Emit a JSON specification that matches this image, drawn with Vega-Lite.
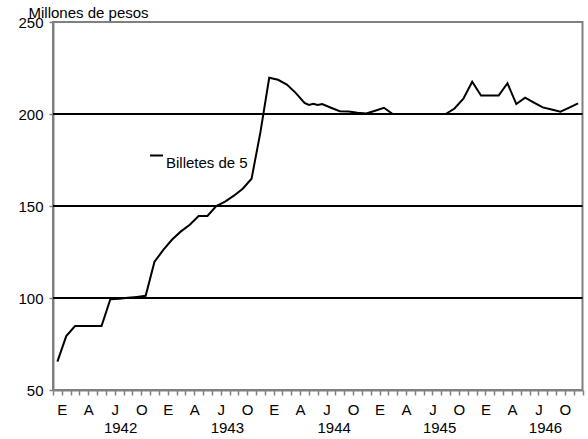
{
  "$schema": "https://vega.github.io/schema/vega-lite/v6.json",
  "width": 529.5,
  "height": 368,
  "autosize": {"type": "none"},
  "padding": {"left": 53, "top": 22, "right": 5.5, "bottom": 49},
  "config": {
    "font": "Liberation Sans",
    "view": {"stroke": "#808080", "strokeWidth": 2},
    "axis": {"labelColor": "black", "titleColor": "black", "labelFontSize": 15, "titleFontSize": 15, "titleFontWeight": "normal"}
  },
  "layer": [
    {
      "data": {"values": [{"nivel": 100}, {"nivel": 150}, {"nivel": 200}]},
      "mark": {"type": "rule", "color": "black", "strokeWidth": 2},
      "encoding": {
        "x": {
          "datum": 0,
          "type": "quantitative",
          "scale": {"domain": [0, 60], "nice": false, "zero": false},
          "axis": {
            "orient": "bottom",
            "values": [7.6, 19.7, 31.8, 43.75, 55.75],
            "labelExpr": "toString(1942 + floor(datum.value / 12))",
            "ticks": false,
            "tickSize": 0,
            "domain": false,
            "grid": false,
            "labelPadding": 30.5,
            "labelFlush": false,
            "labelOverlap": false,
            "title": null
          }
        },
        "x2": {"datum": 60},
        "y": {
          "field": "nivel",
          "type": "quantitative",
          "scale": {"domain": [50, 250], "nice": false, "zero": false},
          "axis": null
        }
      }
    },
    {
      "data": {
        "values": [
          {"t": 0.5, "millones": 65.4},
          {"t": 1.5, "millones": 79.3},
          {"t": 2.5, "millones": 84.8},
          {"t": 3.5, "millones": 84.8},
          {"t": 4.5, "millones": 84.8},
          {"t": 5.5, "millones": 84.8},
          {"t": 6.5, "millones": 99.3},
          {"t": 7.5, "millones": 99.6},
          {"t": 8.5, "millones": 100.1},
          {"t": 9.5, "millones": 100.6},
          {"t": 10.5, "millones": 101.2},
          {"t": 11.5, "millones": 119.7},
          {"t": 12.5, "millones": 126.1},
          {"t": 13.5, "millones": 131.8},
          {"t": 14.5, "millones": 136.2},
          {"t": 15.5, "millones": 139.8},
          {"t": 16.5, "millones": 144.6},
          {"t": 17.5, "millones": 144.6},
          {"t": 18.5, "millones": 150.0},
          {"t": 19.5, "millones": 152.4},
          {"t": 20.5, "millones": 155.6},
          {"t": 21.5, "millones": 159.4},
          {"t": 22.5, "millones": 164.8},
          {"t": 23.5, "millones": 190.0},
          {"t": 24.5, "millones": 219.7},
          {"t": 25.5, "millones": 218.6},
          {"t": 26.5, "millones": 216.0},
          {"t": 27.5, "millones": 211.5},
          {"t": 28.5, "millones": 206.0},
          {"t": 29.0, "millones": 204.9},
          {"t": 29.5, "millones": 205.6},
          {"t": 30.0, "millones": 204.9},
          {"t": 30.5, "millones": 205.4},
          {"t": 31.5, "millones": 203.4},
          {"t": 32.5, "millones": 201.5},
          {"t": 33.5, "millones": 201.3},
          {"t": 34.5, "millones": 200.7},
          {"t": 35.5, "millones": 200.3},
          {"t": 36.5, "millones": 201.8},
          {"t": 37.5, "millones": 203.4},
          {"t": 38.5, "millones": 200.0},
          {"t": 39.5, "millones": 200.0},
          {"t": 40.5, "millones": 200.0},
          {"t": 41.5, "millones": 200.0},
          {"t": 42.5, "millones": 200.0},
          {"t": 43.5, "millones": 200.0},
          {"t": 44.5, "millones": 200.0},
          {"t": 45.5, "millones": 203.0},
          {"t": 46.5, "millones": 208.3},
          {"t": 47.5, "millones": 217.5},
          {"t": 48.5, "millones": 210.0},
          {"t": 49.5, "millones": 210.0},
          {"t": 50.5, "millones": 210.0},
          {"t": 51.5, "millones": 216.7},
          {"t": 52.5, "millones": 205.4},
          {"t": 53.5, "millones": 208.9},
          {"t": 54.5, "millones": 206.2},
          {"t": 55.5, "millones": 203.6},
          {"t": 56.5, "millones": 202.4},
          {"t": 57.5, "millones": 201.3},
          {"t": 58.5, "millones": 203.5},
          {"t": 59.5, "millones": 205.8}
        ]
      },
      "mark": {"type": "line", "strokeWidth": 2},
      "encoding": {
        "x": {
          "field": "t",
          "type": "quantitative",
          "scale": {"domain": [0, 60], "nice": false, "zero": false},
          "axis": {
            "orient": "bottom",
            "values": [0,1,2,3,4,5,6,7,8,9,10,11,12,13,14,15,16,17,18,19,20,21,22,23,24,25,26,27,28,29,30,31,32,33,34,35,36,37,38,39,40,41,42,43,44,45,46,47,48,49,50,51,52,53,54,55,56,57,58,59,60],
            "labelExpr": "datum.value % 3 == 1 ? ['E','A','J','O'][floor((datum.value % 12) / 3)] : ''",
            "tickSize": 5,
            "tickColor": "#808080",
            "tickWidth": 1.5,
            "domainColor": "#808080",
            "domainWidth": 2,
            "grid": false,
            "labelPadding": 7,
            "labelFlush": false,
            "labelOverlap": false,
            "title": null
          }
        },
        "y": {
          "field": "millones",
          "type": "quantitative",
          "scale": {"domain": [50, 250], "nice": false, "zero": false},
          "axis": {
            "values": [50, 100, 150, 200, 250],
            "grid": false,
            "tickSize": 4,
            "tickColor": "#808080",
            "tickWidth": 1.5,
            "domainColor": "#808080",
            "domainWidth": 2,
            "labelPadding": 6,
            "title": "Millones de pesos",
            "titleAngle": 0,
            "titleAlign": "left",
            "titleBaseline": "alphabetic",
            "titleX": -25,
            "titleY": -5
          }
        },
        "color": {
          "datum": "Billetes de 5",
          "scale": {"range": ["black"]},
          "legend": {
            "orient": "none",
            "legendX": 96,
            "legendY": 126,
            "title": null,
            "padding": 0,
            "symbolType": "stroke",
            "symbolSize": 169,
            "symbolStrokeWidth": 2,
            "labelFontSize": 15,
            "labelColor": "black",
            "labelBaseline": "top",
            "labelOffset": 2
          }
        }
      }
    }
  ],
  "resolve": {"axis": {"x": "independent", "y": "independent"}}
}
